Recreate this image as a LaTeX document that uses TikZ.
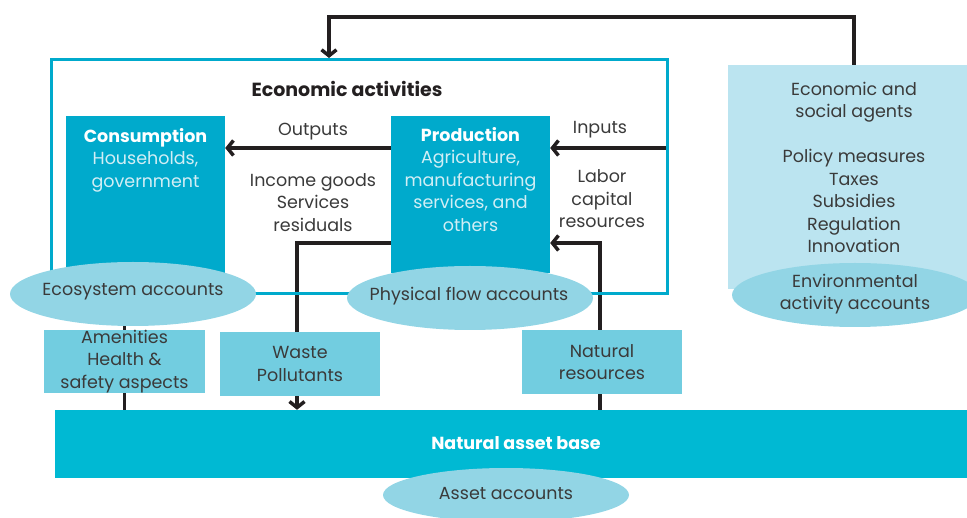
\documentclass[tikz,border=0pt]{standalone}
\usepackage{fontspec}
\setmainfont{Poppins}
\usetikzlibrary{arrows.meta,shapes.geometric,backgrounds}
\definecolor{ink}{HTML}{231F20}
\definecolor{txt}{HTML}{3A3A3A}
\definecolor{ctl}{HTML}{00AACC}
\definecolor{cbase}{HTML}{00B9D3}
\definecolor{cell}{HTML}{92D5E5}
\definecolor{sbox}{HTML}{72CDE0}
\definecolor{agent}{HTML}{BBE4F0}
\definecolor{pale}{HTML}{D2EEF5}
\begin{document}
\begin{tikzpicture}[x=1pt,y=-1pt,
  every node/.style={font=\fontsize{17.5}{22.5}\selectfont, text=txt, align=center, inner sep=0pt},
  flow/.style={draw=ink, line width=3.5pt, -{Straight Barb[length=6pt,width=15pt]}},
  plain/.style={draw=ink, line width=3.5pt},
  bigbox/.style={fill=ctl, minimum width=159pt, minimum height=157pt},
  smallbox/.style={fill=sbox, minimum width=160pt, minimum height=64pt},
  acct/.style={ellipse, fill=cell, minimum width=246pt, minimum height=64pt},
  boldw/.style={font=\bfseries\fontsize{17.5}{22.5}\selectfont, text=white}
]
\useasboundingbox (0,0) rectangle (967,518);
% main blocks
\node[draw=ctl, line width=3pt, minimum width=615.5pt, minimum height=234.5pt] (frame) at (359.25,176.75) {};
\node[bigbox] (cons) at (145.5,194.5) {};
\node[bigbox] (prod) at (470.5,194.5) {};
\node[fill=agent, minimum width=252pt, minimum height=224pt] (agents) at (854,177) {};
\node[fill=cbase, minimum width=925pt, minimum height=68pt] (base) at (517.5,444) {};
% texts in blocks
\node[font=\bfseries\fontsize{19}{22}\selectfont, text=ink] (title) at (347,89) {Economic activities};
\node[text=pale] (constext) at (145.5,160) {\textcolor{white}{\bfseries Consumption}\\Households,\\government};
\node[text=pale] (prodtext) at (470.5,179.5) {\textcolor{white}{\bfseries Production}\\Agriculture,\\manufacturing\\services, and\\others};
\node (agtext) at (854,167.5) {Economic and\\social agents\\[22.5pt]Policy measures\\Taxes\\Subsidies\\Regulation\\Innovation};
\node[boldw] (basetext) at (516,443) {Natural asset base};
% flow labels
\node (outl) at (313,132) {Outputs};
\node (incl) at (313,202.5) {Income goods\\Services\\residuals};
\node (inl) at (600,130) {Inputs};
\node (labl) at (602,199) {Labor\\capital\\resources};
% coordinates for connector heights
\coordinate (yout) at (0,148);
\coordinate (yw) at (0,243);
\coordinate (tl) at (329,17);
% small boxes and ellipses
\node[smallbox, minimum width=161pt, minimum height=63pt] (amen) at (124.5,361.5) {Amenities\\Health \&\\safety aspects};
\node[smallbox] (waste) at (300,364) {Waste\\Pollutants};
\node[smallbox] (natres) at (602,362) {Natural\\resources};
\node[acct] (eco) at (133,294) {};
\node[acct] (phys) at (470,298) {};
\node[acct] (env) at (855,295) {};
\node[acct, minimum height=54pt] (asset) at (506,495) {};
\node (ecot) at (133,292) {Ecosystem accounts};
\node (physt) at (469,296) {Physical flow accounts};
\node (envt) at (855,294) {Environmental\\activity accounts};
\node (assett) at (506,494) {Asset accounts};
% connectors behind everything
\begin{scope}[on background layer]
\draw[flow] (prod.west |- yout) -- (cons.east |- yout);
\draw[flow] (frame.east |- yout) -- (prod.east |- yout);
\draw[flow] (agents.north) |- (tl) -- (tl |- frame.north);
\draw[plain] (amen |- eco.center) -- (amen |- base.north);
\draw[flow] (prod.west |- yw) -| ([xshift=-3pt]waste.center |- base.north);
\draw[flow] ([xshift=-2pt]natres.center |- base.north) |- (prod.east |- yw);
\end{scope}
\end{tikzpicture}
\end{document}
